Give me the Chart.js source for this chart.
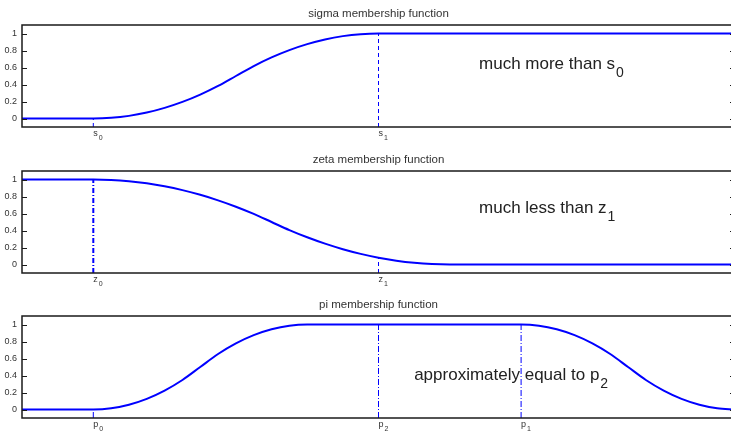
<!DOCTYPE html>
<html>
<head>
<meta charset="utf-8">
<script src="https://cdn.jsdelivr.net/npm/chart.js@4.4.1/dist/chart.umd.min.js"></script>
<style>
  html, body { margin: 0; padding: 0; background: #fff; overflow: hidden; }
  #wrap { position: relative; width: 731px; height: 432px; overflow: hidden; }
  canvas { position: absolute; left: 0; }
</style>
</head>
<body>
<div id="wrap">
  <canvas id="sigma" width="740" height="146" style="top:0px"></canvas>
  <canvas id="zeta" width="740" height="146" style="top:146px"></canvas>
  <canvas id="pi" width="740" height="146" style="top:291px"></canvas>
</div>
<script>
// axis ranges
const xRange = [0, 10];
const yRange = [-0.1, 1.1];
const yTicks = [0, 0.2, 0.4, 0.6, 0.8, 1];

// sigma membership (rises between s0 and s1)
const sigmaX = [0, 1, 1.25, 1.5, 1.75, 2, 2.25, 2.5, 2.75, 3, 3.25, 3.5, 3.75, 4, 4.25, 4.5, 4.75, 5, 10];
const sigmaY = [0, 0, 0.008, 0.031, 0.07, 0.125, 0.195, 0.281, 0.383, 0.5, 0.617, 0.719, 0.805, 0.875, 0.93, 0.969, 0.992, 1, 1];

// zeta membership (falls after z0)
const zetaX = [0, 1, 1.25, 1.5, 1.75, 2, 2.25, 2.5, 2.75, 3, 3.25, 3.5, 3.75, 4, 4.25, 4.5, 4.75, 5, 5.25, 5.5, 5.75, 6, 10];
const zetaY = [1, 1, 0.995, 0.98, 0.955, 0.92, 0.875, 0.82, 0.755, 0.68, 0.595, 0.5, 0.405, 0.32, 0.245, 0.18, 0.125, 0.08, 0.045, 0.02, 0.005, 0, 0];

// pi membership (rise, plateau, fall)
const piX = [0, 1, 1.25, 1.5, 1.75, 2, 2.25, 2.5, 2.75, 3, 3.25, 3.5, 3.75, 4, 7, 7.25, 7.5, 7.75, 8, 8.25, 8.5, 8.75, 9, 9.25, 9.5, 9.75, 10];
const piY = [0, 0, 0.014, 0.056, 0.125, 0.222, 0.347, 0.5, 0.653, 0.778, 0.875, 0.944, 0.986, 1, 1, 0.986, 0.944, 0.875, 0.778, 0.653, 0.5, 0.347, 0.222, 0.125, 0.056, 0.014, 0];

// marker positions: name, subscript, x, curve value at x
const sigmaMarks = [['s', '0', 1, 0], ['s', '1', 5, 1]];
const zetaMarks = [['z', '0', 1, 1], ['z', '1', 5, 0.08]];
const piMarks = [['p', '0', 1, 0], ['p', '2', 5, 1], ['p', '1', 7, 1]];

const FONT = "'Liberation Sans', Arial, Helvetica, sans-serif";
const BLUE = '#0000ff';

function drawSub(ctx, text, sub, x, y, size, subSize, drop) {
  ctx.font = size + 'px ' + FONT;
  ctx.textAlign = 'left';
  ctx.textBaseline = 'alphabetic';
  ctx.fillText(text, x, y);
  const w = ctx.measureText(text).width;
  ctx.font = subSize + 'px ' + FONT;
  ctx.fillText(sub, x + w + 1, y + drop);
}

// box, inward ticks, marker labels and the note
const framePlugin = {
  id: 'frame',
  afterDatasetsDraw(chart, args, opts) {
    const { ctx, chartArea: a, scales } = chart;
    const x = scales.x, y = scales.y;
    ctx.save();
    ctx.strokeStyle = '#1a1a1a';
    ctx.lineWidth = 1.5;
    ctx.strokeRect(a.left, a.top, a.right - a.left, a.bottom - a.top);
    ctx.lineWidth = 1;
    ctx.beginPath();
    yTicks.forEach(v => {
      const py = Math.round(y.getPixelForValue(v)) + 0.5;
      ctx.moveTo(a.left, py);
      ctx.lineTo(a.left + 5, py);
      ctx.moveTo(a.right, py);
      ctx.lineTo(a.right - 5, py);
    });
    ctx.stroke();

    ctx.fillStyle = '#333';
    opts.marks.forEach(m => {
      drawSub(ctx, m[0], m[1], x.getPixelForValue(m[2]), a.bottom + 9, 9, 7, 4);
    });

    const n = opts.note;
    ctx.fillStyle = '#222';
    drawSub(ctx, n.text, n.sub, x.getPixelForValue(n.x), y.getPixelForValue(n.y), 17, 14, 8);
    ctx.restore();
  }
};

function makePanel(id, title, xs, ys, marks, dash, note) {
  const curve = xs.map((v, i) => ({ x: v, y: ys[i] }));
  const datasets = marks.map((m, i) => ({
    data: [{ x: m[2], y: yRange[0] }, { x: m[2], y: m[3] }],
    borderColor: BLUE,
    borderWidth: dash[i].width,
    borderDash: dash[i].pattern,
    pointRadius: 0
  }));
  datasets.push({
    data: curve,
    borderColor: BLUE,
    borderWidth: 2,
    pointRadius: 0,
    cubicInterpolationMode: 'monotone'
  });

  return new Chart(document.getElementById(id), {
    type: 'line',
    data: { datasets },
    plugins: [framePlugin],
    options: {
      responsive: false,
      animation: false,
      layout: { padding: { top: 0, left: 0, right: 5, bottom: 19 } },
      scales: {
        x: {
          type: 'linear',
          min: xRange[0],
          max: xRange[1],
          display: false
        },
        y: {
          type: 'linear',
          min: yRange[0],
          max: yRange[1],
          afterBuildTicks: scale => { scale.ticks = yTicks.map(v => ({ value: v })); },
          afterFit: scale => { scale.width = 22; },
          grid: { display: false, drawTicks: false },
          border: { display: false },
          ticks: {
            padding: 5,
            color: '#333',
            font: { family: FONT, size: 9 },
            callback: v => String(v)
          }
        }
      },
      plugins: {
        legend: { display: false },
        tooltip: { enabled: false },
        title: {
          display: true,
          text: title,
          fullSize: false,
          color: '#333',
          font: { family: FONT, size: 11.5, weight: 'normal', lineHeight: 1 },
          padding: { top: 8, bottom: 5.5 }
        },
        frame: { marks, note }
      }
    }
  });
}

makePanel('sigma', 'sigma membership function', sigmaX, sigmaY, sigmaMarks,
  [{ width: 1, pattern: [4, 3] }, { width: 1, pattern: [4, 3] }],
  { text: 'much more than s', sub: '0', x: 6.41, y: 0.58 });

makePanel('zeta', 'zeta membership function', zetaX, zetaY, zetaMarks,
  [{ width: 2, pattern: [5, 2, 1, 2] }, { width: 1, pattern: [4, 3] }],
  { text: 'much less than z', sub: '1', x: 6.41, y: 0.605 });

makePanel('pi', 'pi membership function', piX, piY, piMarks,
  [{ width: 1, pattern: [6, 2, 1, 2] }, { width: 1, pattern: [6, 2, 1, 2] }, { width: 1, pattern: [6, 2, 1, 2] }],
  { text: 'approximately equal to p', sub: '2', x: 5.5, y: 0.345 });
</script>
</body>
</html>
